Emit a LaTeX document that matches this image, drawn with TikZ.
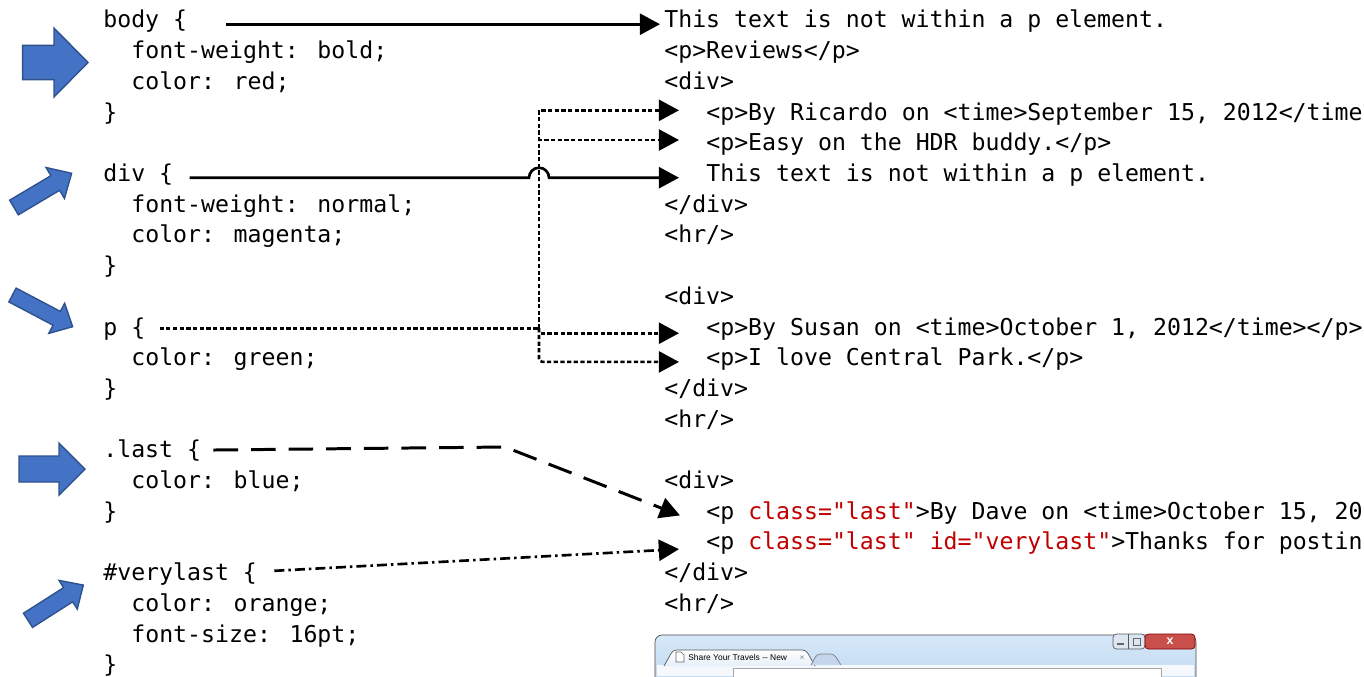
\documentclass[tikz,border=0pt]{standalone}
\usepackage{fontspec}
\usepackage{tikz}
\usepackage{xcolor}
\usetikzlibrary{arrows.meta,calc}
\newfontfamily\codefont{DejaVu Sans Mono}
\newfontfamily\uifont{Liberation Sans}
\definecolor{arrowblue}{HTML}{4472C4}
\definecolor{arrowedge}{HTML}{2F528F}
\definecolor{attrred}{HTML}{C00000}
\definecolor{framehi}{HTML}{D6E8F9}
\definecolor{framelo}{HTML}{B9D3EE}
\definecolor{tabfill}{HTML}{E6EFF9}
\definecolor{newtab}{HTML}{C4D6EB}
\definecolor{btnfill}{HTML}{DCE7F3}
\definecolor{closered}{HTML}{C9504A}
\tikzset{
  >={Triangle[length=11.5pt,width=12pt]},
}
\tikzstyle{code}=[font=\codefont\fontsize{13.2}{16}\selectfont,inner sep=0pt,anchor=base west]
\tikzstyle{tabtext}=[font=\uifont\fontsize{4.8}{5}\selectfont,inner sep=0pt]
\tikzstyle{link}=[line width=1.5pt,->]
\tikzstyle{dotlink}=[link,dash pattern=on 2.4pt off 1.4pt]
\tikzstyle{dashlink}=[link,line width=1.7pt,dash pattern=on 14pt off 7.4pt]
\tikzstyle{dotdashlink}=[link,dash pattern=on 5.7pt off 2.3pt on 1.4pt off 2.3pt]
\tikzstyle{bigarrow}=[fill=arrowblue,draw=arrowedge,line width=0.8pt]
% tail centre, angle, length, half shaft, half head, head length
\newcommand\blockarrow[6]{%
  \draw[bigarrow,shift={#1},rotate=#2] (0,-#4) -- (#3-#6,-#4) -- (#3-#6,-#5)
    -- (#3,0) -- (#3-#6,#5) -- (#3-#6,#4) -- (0,#4) -- cycle;}

\begin{document}
\begin{tikzpicture}[x=0.02cm,y=-0.02cm]
  \clip (0,0) rectangle (1364,676);
  \fill[white] (0,0) rectangle (1364,676);
  % big blue pointers
  \blockarrow{(22.7,62.5)}{0}{65.3}{17.2}{34.5}{34}
  \blockarrow{(14,207.5)}{30.7}{67}{8.5}{18}{19}
  \blockarrow{(12.5,295)}{-27.8}{68}{7.8}{17}{18}
  \blockarrow{(19,469)}{0}{66}{13}{26}{26}
  \blockarrow{(28,620.3)}{32.5}{65.6}{8.4}{17}{18}
  % style sheet
  \node[code] (sbody) at (103,28) {body \{};
  \node[code] (pbody1) at (131,58.7) {font-weight: bold;};
  \node[code] (pbody2) at (131,89.4) {color: red;};
  \node[code] (ebody) at (103,120.1) {\}};
  \node[code] (sdiv) at (103,181.5) {div \{};
  \node[code] (pdiv1) at (131,212.2) {font-weight: normal;};
  \node[code] (pdiv2) at (131,242.9) {color: magenta;};
  \node[code] (ediv) at (103,273.6) {\}};
  \node[code] (sp) at (103,335) {p \{};
  \node[code] (pp1) at (131,365.7) {color: green;};
  \node[code] (ep) at (103,396.4) {\}};
  \node[code] (slast) at (103,457.8) {.last \{};
  \node[code] (plast1) at (131,488.5) {color: blue;};
  \node[code] (elast) at (103,519.2) {\}};
  \node[code] (svery) at (103,580.6) {\#verylast \{};
  \node[code] (pvery1) at (131,611.3) {color: orange;};
  \node[code] (pvery2) at (131,642) {font-size: 16pt;};
  \node[code] (every) at (103,672.7) {\}};
  % markup
  \node[code] (hbodytxt) at (664,28) {This text is not within a p element.};
  \node[code] (hrev) at (664,58.7) {<p>Reviews</p>};
  \node[code] (hdiv1) at (664,89.4) {<div>};
  \node[code] (hric) at (706,120.1) {<p>By Ricardo on <time>September 15, 2012</time};
  \node[code] (heasy) at (706,150.8) {<p>Easy on the HDR buddy.</p>};
  \node[code] (hdivtxt) at (706,181.5) {This text is not within a p element.};
  \node[code] (hdivend1) at (664,212.2) {</div>};
  \node[code] (hhr1) at (664,242.9) {<hr/>};
  \node[code] (hdiv2) at (664,304.3) {<div>};
  \node[code] (hsusan) at (706,335) {<p>By Susan on <time>October 1, 2012</time></p>};
  \node[code] (hlove) at (706,365.7) {<p>I love Central Park.</p>};
  \node[code] (hdivend2) at (664,396.4) {</div>};
  \node[code] (hhr2) at (664,427.1) {<hr/>};
  \node[code] (hdiv3) at (664,488.5) {<div>};
  \node[code] (hdave) at (706,519.2) {<p \textcolor{attrred}{class="last"}>By Dave on <time>October 15, 20};
  \node[code] (hthanks) at (706,549.9) {<p \textcolor{attrred}{class="last" id="verylast"}>Thanks for postin};
  \node[code] (hdivend3) at (664,580.6) {</div>};
  \node[code] (hhr3) at (664,611.3) {<hr/>};
  % rules to elements
  \coordinate (vx) at (539,0);
  \coordinate (bend) at (505,447);
  \draw[link] ($(sbody.mid east)+(39,0)$) -- ($(hbodytxt.mid west)+(-4,0)$);
  \draw[link] ($(sdiv.mid east)+(16,0)$) -- ($(vx |- sdiv.mid)+(-10,0)$)
    arc[start angle=180,end angle=360,radius=10] -- ($(hdivtxt.mid west)+(-27,0)$);
  \coordinate (jn) at ($(vx |- sp.mid)+(0,-3)$);
  \draw[dotlink,-] ($(sp.mid east)+(14,-3)$) -- (jn);
  \draw[dotlink] (jn) |- ($(hric.mid west)+(-27,-6)$);
  \draw[dotlink] (jn) |- ($(heasy.mid west)+(-27,-7)$);
  \draw[dotlink] (jn) |- ($(hsusan.mid west)+(-27,2)$);
  \draw[dotlink,rounded corners=2pt] (jn) |- ($(hlove.mid west)+(-27,0)$);
  \draw[dashlink] ($(slast.mid east)+(12,-4)$) -- (bend) -- ($(hdave.mid west)+(-26,0)$);
  \draw[dotdashlink] ($(svery.mid east)+(17,-6)$) -- ($(hthanks.mid west)+(-27,3)$);
  % browser window at the bottom
  \draw[gray!60!black,top color=framehi,bottom color=framelo,rounded corners=4pt] (655,635) rectangle (1196,700);
  \fill[white!60!tabfill] (657,665) rectangle (1194,676);
  \draw[gray!70,fill=white] (733,668) rectangle (1161,690);
  \draw[gray!70!black,top color=white,bottom color=tabfill,rounded corners=2pt] (664,666) -- (673,650) -- (806,650) -- (815,666);
  \draw[gray,fill=newtab,rounded corners=2pt] (811,665) -- (817,654) -- (834,654) -- (841,665);
  \draw[gray!80!black,line width=0.4pt,fill=white] (676,662) -- (676,652) -- (681,652) -- (684,655) -- (684,662) -- cycle;
  \node[tabtext,anchor=west] (tabtitle) at (688,657.5) {Share Your Travels -{}- New};
  \node[tabtext,text=gray] (tabclose) at (802,658) {×};
  \draw[gray!70!black,fill=btnfill,rounded corners=2pt] (1113,634) rectangle (1145,649);
  \draw[gray!70!black] (1128.5,634) -- (1128.5,649);
  \draw[gray!80!black,line width=0.8pt] (1117,644) -- (1124,644);
  \draw[gray!80!black,line width=0.5pt] (1133,638) rectangle (1140,645);
  \draw[red!50!black,fill=closered,rounded corners=2pt] (1145,634) rectangle (1195,649);
  \node[font=\uifont\bfseries\fontsize{7}{7}\selectfont,text=white,inner sep=0pt] (closex) at (1170,641.5) {x};
\end{tikzpicture}
\end{document}
